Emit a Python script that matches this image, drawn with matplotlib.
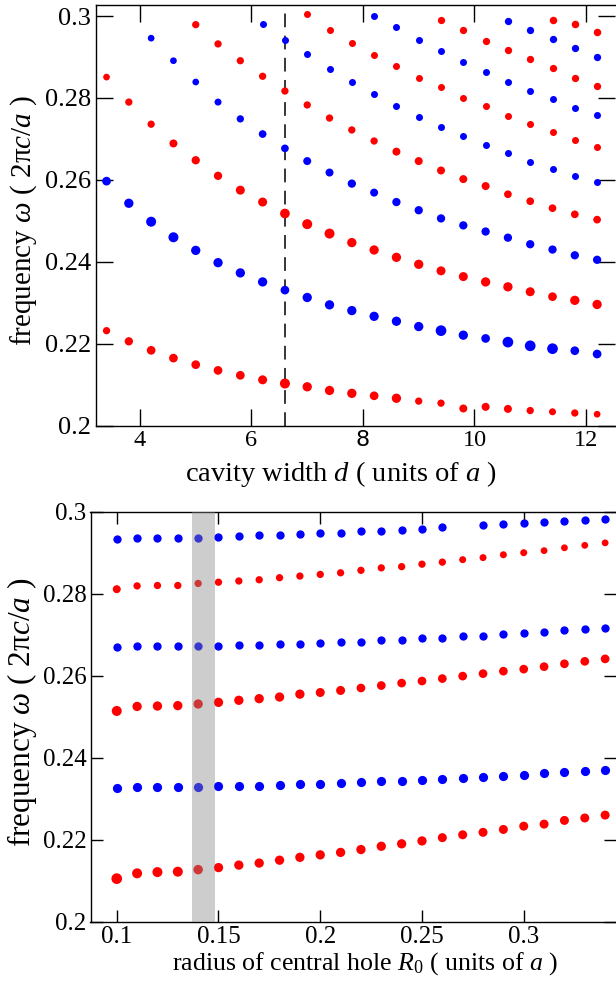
import numpy as np
import matplotlib
matplotlib.use("Agg")
import matplotlib.pyplot as plt
from matplotlib.ticker import FormatStrFormatter

plt.rcParams['font.family'] = ['Liberation Serif', 'DejaVu Serif']
plt.rcParams['mathtext.fontset'] = 'custom'
plt.rcParams['mathtext.rm'] = 'Liberation Serif'
plt.rcParams['mathtext.it'] = 'Liberation Serif:italic'

# ---- top panel: frequency vs cavity width d ----
d_grid = [3.4, 3.8, 4.2, 4.6, 5.0, 5.4, 5.8, 6.2, 6.6, 7.0, 7.4, 7.8,
          8.2, 8.6, 9.0, 9.4, 9.8, 10.2, 10.6, 11.0, 11.4, 11.8, 12.2]

# bands listed bottom to top; each starts at d_grid[start]
top_red1 = [0.2232, 0.2206, 0.2184, 0.2165, 0.2149, 0.2135, 0.2123, 0.2112,
            0.2103, 0.2095, 0.2086, 0.2079, 0.2073, 0.2067, 0.2060, 0.2055,
            0.2042, 0.2046, 0.2041, 0.2037, 0.2034, 0.2031, 0.2028]
top_blue2 = [0.2597, 0.2543, 0.2498, 0.2460, 0.2428, 0.2398, 0.2373, 0.2351,
             0.2331, 0.2313, 0.2295, 0.2281, 0.2267, 0.2255, 0.2242, 0.2232,
             0.2221, 0.2213, 0.2204, 0.2195, 0.2188, 0.2183, 0.2175]
top_red3 = [0.2851, 0.2790, 0.2736, 0.2689, 0.2648, 0.2610, 0.2575, 0.2546,
            0.2518, 0.2492, 0.2469, 0.2447, 0.2429, 0.2411, 0.2394, 0.2378,
            0.2364, 0.2351, 0.2339, 0.2327, 0.2315, 0.2306, 0.2296]
top_blue4 = [0.2946, 0.2891, 0.2839, 0.2790, 0.2749, 0.2712, 0.2677, 0.2646,
             0.2618, 0.2591, 0.2569, 0.2546, 0.2526, 0.2506, 0.2489, 0.2474,
             0.2459, 0.2443, 0.2430, 0.2416, 0.2405]
top_red5 = [0.2979, 0.2932, 0.2891, 0.2853, 0.2817, 0.2783, 0.2751, 0.2722,
            0.2695, 0.2669, 0.2646, 0.2623, 0.2602, 0.2585, 0.2565, 0.2548,
            0.2531, 0.2516, 0.2503]
top_blue6 = [0.2981, 0.2941, 0.2907, 0.2871, 0.2839, 0.2809, 0.2781, 0.2754,
             0.2730, 0.2707, 0.2686, 0.2665, 0.2644, 0.2627, 0.2609, 0.2594]
top_red7 = [0.3004, 0.2966, 0.2934, 0.2905, 0.2878, 0.2849, 0.2826, 0.2801,
            0.2780, 0.2757, 0.2736, 0.2716, 0.2697, 0.2680]
top_blue8 = [0.3000, 0.2973, 0.2942, 0.2915, 0.2887, 0.2863, 0.2839, 0.2817,
             0.2797, 0.2776, 0.2759]
top_red9 = [0.2991, 0.2965, 0.2939, 0.2916, 0.2894, 0.2872, 0.2849, 0.2830]
top_blue10 = [0.2989, 0.2967, 0.2943, 0.2921, 0.2901]
top_red11 = [0.2991, 0.2980, 0.2962]

# relative dot sizes (diameter, px)
dot_red1 = [7.3, 8.3, 8.7, 8.7, 8.7, 8.7, 8.7, 9, 10, 9.3, 9.3, 9.3, 8.7,
            9.3, 7.3, 7.3, 8, 8, 8, 7.3, 7, 7.3, 6.7]
dot_blue2 = [8.7, 9.3, 10, 10, 9.3, 9.3, 9.3, 9.3, 8.7, 9.3, 9.3, 9.3, 9.3,
             9.3, 9.3, 10.7, 9.3, 8.7, 10.7, 10.7, 10.7, 8.7, 8.7]
dot_red3 = [6.7, 7.3, 7.3, 8, 8.3, 8.3, 9, 9, 9.7, 10, 10, 9.3, 9.3, 9.3,
            9.3, 9, 9, 9.3, 9.3, 9, 8.7, 9.3, 9.3]
dot_blue4 = [6.7, 6.7, 6.7, 7, 7.3, 7.7, 7.7, 8, 8, 8.3, 8, 8.3, 8.3, 8.3,
             8.3, 8.3, 8.3, 8.3, 8.3, 8.3, 8.3]
dot_red5 = [7.3, 7.3, 7.3, 7.3, 7.3, 7.3, 7.3, 7.3, 7.3, 8, 8, 8, 8, 8,
            7.7, 7.7, 7.7, 7.7, 7.7]

top_bands = [(top_red1, 0, 'red', dot_red1),
             (top_blue2, 0, 'blue', dot_blue2),
             (top_red3, 0, 'red', dot_red3),
             (top_blue4, 2, 'blue', dot_blue4),
             (top_red5, 4, 'red', dot_red5),
             (top_blue6, 7, 'blue', 7.0),
             (top_red7, 9, 'red', 7.0),
             (top_blue8, 12, 'blue', 7.0),
             (top_red9, 15, 'red', 7.3),
             (top_blue10, 18, 'blue', 7.3),
             (top_red11, 20, 'red', 7.5)]
d_marked = 6.6

# ---- bottom panel: frequency vs central hole radius R0 ----
r_grid = [0.10, 0.11, 0.12, 0.13, 0.14, 0.15, 0.16, 0.17, 0.18, 0.19, 0.20,
          0.21, 0.22, 0.23, 0.24, 0.25, 0.26, 0.27, 0.28, 0.29, 0.30, 0.31,
          0.32, 0.33, 0.34]
bot_red1 = [0.2105, 0.2118, 0.2121, 0.2122, 0.2127, 0.2132, 0.2138, 0.2143,
            0.2150, 0.2157, 0.2163, 0.2169, 0.2176, 0.2184, 0.2190, 0.2197,
            0.2205, 0.2212, 0.2218, 0.2225, 0.2233, 0.2238, 0.2247, 0.2253,
            0.2260]
bot_blue2 = [0.2327, 0.2328, 0.2328, 0.2328, 0.2329, 0.2330, 0.2331, 0.2332,
             0.2334, 0.2335, 0.2336, 0.2338, 0.2340, 0.2342, 0.2344, 0.2345,
             0.2348, 0.2350, 0.2353, 0.2355, 0.2359, 0.2362, 0.2365, 0.2368,
             0.2371]
bot_red3 = [0.2514, 0.2525, 0.2526, 0.2527, 0.2531, 0.2535, 0.2540, 0.2544,
            0.2548, 0.2555, 0.2559, 0.2564, 0.2570, 0.2576, 0.2582, 0.2587,
            0.2593, 0.2599, 0.2605, 0.2611, 0.2616, 0.2622, 0.2629, 0.2635,
            0.2641]
bot_blue4 = [0.2670, 0.2672, 0.2672, 0.2672, 0.2672, 0.2673, 0.2674, 0.2675,
             0.2677, 0.2678, 0.2679, 0.2682, 0.2683, 0.2686, 0.2688, 0.2691,
             0.2693, 0.2696, 0.2698, 0.2701, 0.2705, 0.2707, 0.2711, 0.2714,
             0.2717]
bot_red5 = [0.2811, 0.2819, 0.2820, 0.2820, 0.2825, 0.2828, 0.2831, 0.2834,
            0.2839, 0.2843, 0.2847, 0.2851, 0.2857, 0.2863, 0.2866, 0.2872,
            0.2877, 0.2883, 0.2888, 0.2895, 0.2900, 0.2905, 0.2912, 0.2918,
            0.2924]
bot_blue6 = [0.2934, 0.2936, 0.2936, 0.2936, 0.2937, 0.2939, 0.2940, 0.2942,
             0.2944, 0.2945, 0.2947, 0.2949, 0.2952, 0.2954, 0.2955, 0.2957,
             0.2962, np.nan, 0.2967, 0.2969, 0.2972, 0.2975, 0.2978, 0.2979,
             0.2983]

dot_bred1 = [10.7, 10, 10, 10, 9.5, 9.3, 9.3, 9.3, 9.3, 9.3, 9.3, 9.3, 9.3,
             9.3, 9.3, 9.3, 9, 9, 9, 9, 9, 9, 9, 9, 9]
dot_bred3 = [10, 9.3, 9.3, 9.3, 9.3, 9.3, 9.3, 9.3, 9.3, 9.3, 9, 9, 8.7, 8.7,
             8.7, 8.7, 8.7, 8.7, 8.7, 8.7, 8.7, 8.7, 8.7, 8.7, 8.7]
dot_bred5 = [8, 7.3, 7.3, 7.3, 7.3, 7.3, 7.3, 7.3, 7.3, 7.3, 7.3, 7.3, 7.3,
             7.3, 7.3, 7.3, 7.3, 7, 7, 7, 7, 6.8, 6.8, 6.8, 6.8]
bot_bands = [(bot_red1, 'red', dot_bred1),
             (bot_blue2, 'blue', 9.2),
             (bot_red3, 'red', dot_bred3),
             (bot_blue4, 'blue', 8.3),
             (bot_red5, 'red', dot_bred5),
             (bot_blue6, 'blue', 8.3)]
r_shaded = (0.1372, 0.1485)


def px_to_s(d):
    # dot diameter in pixels (dpi 100) -> scatter area in pt^2
    return (np.asarray(d) * 0.72) ** 2


fig = plt.figure(figsize=(6.16, 9.84), dpi=100)
ax1 = fig.add_axes([95.5 / 616, 1 - 425.7 / 984, 520 / 616, 420.7 / 984])
ax2 = fig.add_axes([90.5 / 616, 1 - 921.7 / 984, 525 / 616, 410 / 984])

ylab = r'frequency $\omega$ ( 2π$c$/$a$ )'

for yv, start, col, dots in top_bands:
    xs = d_grid[start:start + len(yv)]
    ax1.scatter(xs, yv, s=px_to_s(dots), color=col, linewidths=0, zorder=3)
ax1.axvline(d_marked, color='black', lw=1.1, dashes=(9, 5.5), zorder=2)
ax1.set_xlim(3.202, 12.53)
ax1.set_ylim(0.2, 0.3027)
ax1.set_xticks([4, 6, 8, 10, 12])
ax1.set_yticks([0.2, 0.22, 0.24, 0.26, 0.28, 0.3])
ax1.xaxis.set_major_formatter(FormatStrFormatter('%g'))
ax1.yaxis.set_major_formatter(FormatStrFormatter('%g'))
ax1.tick_params(direction='in', length=12, width=1, top=True, right=True,
                pad=3)
ax1.tick_params(axis='x', labelsize=17.5)
ax1.tick_params(axis='y', labelsize=19)
ax1.set_xlabel(r'cavity width $d$ ( units of $a$ )', fontsize=20.5)
ax1.set_ylabel(ylab, fontsize=21)
ax1.xaxis.set_label_coords(0.472, -0.079)
ax1.yaxis.set_label_coords(-0.108, 0.487)

for yv, col, dots in bot_bands:
    ax2.scatter(r_grid, yv, s=px_to_s(dots), color=col, linewidths=0, zorder=2)
ax2.axvspan(r_shaded[0], r_shaded[1], color=(0.537, 0.537, 0.537),
            alpha=0.42, lw=0, zorder=3)
ax2.set_xlim(0.0871, 0.3451)
ax2.set_ylim(0.2, 0.3)
ax2.set_xticks([0.1, 0.15, 0.2, 0.25, 0.3])
ax2.set_yticks([0.2, 0.22, 0.24, 0.26, 0.28, 0.3])
ax2.xaxis.set_major_formatter(FormatStrFormatter('%g'))
ax2.yaxis.set_major_formatter(FormatStrFormatter('%g'))
ax2.tick_params(direction='in', length=8.6, width=1, top=True, right=True,
                labelsize=18, pad=3)
ax2.set_xlabel(r'radius of central hole $R_0$ ( units of $a$ )', fontsize=18.6)
ax2.set_ylabel(ylab, fontsize=22.5)
ax2.xaxis.set_label_coords(0.524, -0.069)
ax2.yaxis.set_label_coords(-0.098, 0.511)

for ax in (ax1, ax2):
    for sp in ax.spines.values():
        sp.set_linewidth(1.0)
    ax.spines['right'].set_visible(False)

fig.canvas.draw()
# the "8" under the top panel is set in a sans face in the original
for lab in ax1.get_xticklabels():
    if lab.get_text() == '8':
        lab.set_fontfamily('DejaVu Sans')
        lab.set_fontsize(16)

fig.savefig('out.png', dpi=100)
